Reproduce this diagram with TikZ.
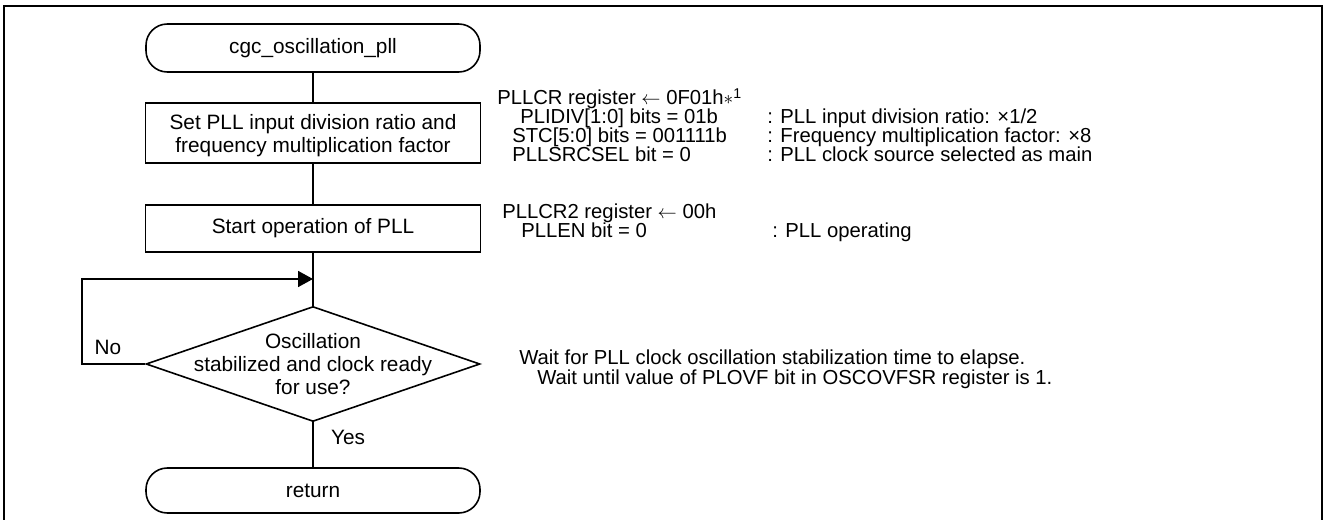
\documentclass[tikz,border=0pt]{standalone}
\usepackage{fontspec}
\setmainfont{Liberation Sans}
\usetikzlibrary{shapes.geometric,arrows.meta}

\begin{document}
\begin{tikzpicture}[x=0.75pt,y=0.75pt,yscale=-1,xscale=1,
	every node/.style={font=\fontsize{15.6}{17.3}\selectfont},
	flow/.style={line width=1.2pt},
	term/.style={draw,line width=1.2pt,rounded corners=16pt,minimum width=250.5pt,inner sep=0pt},
	proc/.style={draw,line width=1.2pt,minimum width=251.25pt,inner sep=0pt,align=center},
	decision/.style={draw,diamond,line width=1.2pt,minimum width=250.5pt,minimum height=86.25pt,inner sep=0pt},
	note/.style={anchor=base west,inner sep=0pt,font=\fontsize{15.2}{17}\selectfont}]
		\useasboundingbox (0,0) rectangle (1326,520);
		\draw[line width=1.5pt] (4,522) -- (4,6) -- (1322,6) -- (1322,522);
		
		\node[term,minimum height=36pt] (start) at (313,48) {cgc\_oscillation\_pll};
		\node[proc,minimum height=45pt] (setpll) at (313,133) {};
		\node[align=center,inner sep=0pt] (setplltxt) at (313,136) {Set PLL input division ratio and\\frequency multiplication factor};
		\node[proc,minimum height=35.25pt] (runpll) at (313,228.5) {Start operation of PLL};
		\coordinate (join) at (313,279);
		\node[decision] (chk) at (313,364) {};
		\node[align=center,inner sep=0pt] (chktxt) at (chk.center) {Oscillation\\stabilized and clock ready\\for use?};
		\node[term,minimum height=33.75pt] (ret) at (313,490.5) {return};
		
		\draw[flow] (start) -- (setpll);
		\draw[flow] (setpll) -- (runpll);
		\draw[flow] (runpll) -- (chk);
		\draw[flow] (chk) -- (ret);
		\draw[flow,-{Triangle[length=11.25pt,width=12pt]}] (chk.west) -- ++(-63,0) |- (join);
		
		\node (no) at (108,347) {No};
		\node (yes) at (348,437) {Yes};
		
		\node[note] (pllcr) at (497,105) {PLLCR register $\leftarrow$ 0F01h$\ast$\textsuperscript{1}};
		\node[note] (plidiv) at (520,124) {PLIDIV[1:0] bits = 01b};
		\node[note] (stc) at (512,143) {STC[5:0] bits = 001111b};
		\node[note] (srcsel) at (512,162) {PLLSRCSEL bit = 0};
		\node[note] (plidivc) at (767,124) {: PLL input division ratio: ×1/2};
		\node[note] (stcc) at (767,143) {: Frequency multiplication factor: ×8};
		\node[note] (srcselc) at (767,162) {: PLL clock source selected as main};
		
		\node[note] (pllcrtwo) at (502,219) {PLLCR2 register $\leftarrow$ 00h};
		\node[note] (pllen) at (521,238) {PLLEN bit = 0};
		\node[note] (pllenc) at (772,238) {: PLL operating};
		
		\node[note] (wait) at (519,364) {Wait for PLL clock oscillation stabilization time to elapse.};
		\node[note] (waitflag) at (537,384) {Wait until value of PLOVF bit in OSCOVFSR register is 1.};
\end{tikzpicture}
\end{document}
